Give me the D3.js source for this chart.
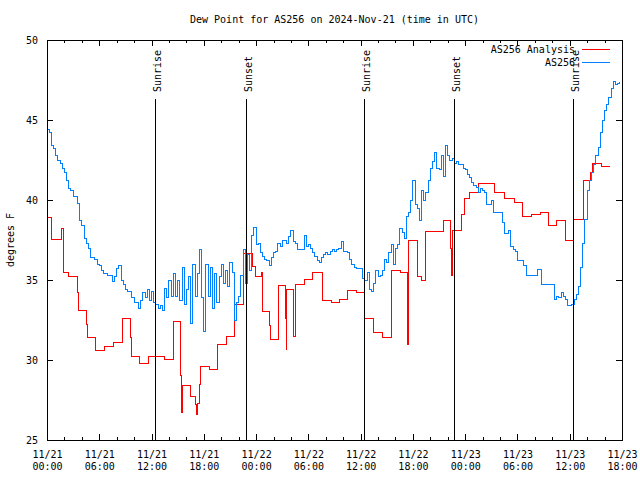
<!DOCTYPE html>
<html><head><meta charset="utf-8">
<script src="https://cdn.jsdelivr.net/npm/d3@7"></script>
<style>
body{margin:0;background:#fff}
svg text{font-family:"DejaVu Sans Mono",monospace;font-size:10px;fill:#000}
</style>
</head><body><svg id="c" width="640" height="480"></svg>
<script>
const title = "Dew Point for AS256 on 2024-Nov-21 (time in UTC)";
const yLabel = "degrees F";
const seriesNames = ["AS256 Analysis", "AS256"];
const seriesColors = ["#ff0000", "#0080ff"];
const startTime = "2024-11-21T00:00:00Z";
const endTime = "2024-11-23T18:00:00Z";
const yDomain = [25, 50];
const yTicks = [25, 30, 35, 40, 45, 50];
const sunLabels = ["Sunrise", "Sunset", "Sunrise", "Sunset", "Sunrise"];
const sunTimes = ["2024-11-21T12:27:00Z", "2024-11-21T22:49:00Z", "2024-11-22T12:25:00Z", "2024-11-22T22:45:00Z", "2024-11-23T12:25:00Z"];

// AS256 Analysis: hours since start, value (step)
const analysisHours = [0, 0.57, 1.61, 1.87, 2.44, 3.48, 3.59, 4.56, 4.63, 5.59, 6.58, 7.58, 8.61, 8.69, 9.53, 9.72, 10.56, 11.63, 13.54, 14.54, 15.35, 15.44, 15.53, 16.49, 17.10, 17.18, 17.33, 17.56, 17.64, 18.60, 19.59, 20.58, 21.50, 22.58, 23.57, 23.95, 24.64, 24.76, 25.52, 25.60, 26.55, 27.40, 27.45, 27.51, 28.35, 28.52, 29.53, 30.50, 31.57, 32.68, 33.52, 34.52, 35.47, 36.47, 37.45, 38.53, 39.56, 40.52, 41.40, 41.47, 41.55, 42.55, 42.93, 43.50, 45.49, 46.34, 46.41, 46.60, 47.55, 47.87, 48.55, 49.50, 51.39, 52.54, 53.64, 54.60, 55.59, 56.59, 57.59, 58.51, 59.54, 60.49, 61.56, 62.40, 62.60, 63.67, 64.62];
const analysisValues = [38.9, 37.56, 38.25, 35.5, 35.25, 34.2, 33.1, 32.25, 31.4, 30.6, 30.83, 31.1, 31.9, 32.6, 31.4, 30.2, 29.8, 30.2, 30.04, 32.4, 29.06, 26.7, 28.4, 27.7, 27.2, 26.6, 27.3, 28.5, 29.6, 29.4, 31.0, 31.5, 33.48, 36.63, 35.83, 35.25, 35.46, 33.02, 32.13, 31.31, 34.63, 32.6, 30.67, 34.38, 31.46, 34.69, 35.06, 35.5, 33.75, 33.58, 33.8, 34.35, 34.2, 32.6, 31.7, 31.4, 35.6, 35.5, 31.0, 34.3, 37.5, 35.2, 35.0, 38.06, 38.75, 37.0, 35.3, 38.1, 39.1, 40.1, 40.45, 41.04, 40.5, 40.1, 39.85, 38.96, 39.1, 39.2, 38.4, 38.7, 37.5, 38.8, 41.2, 41.7, 42.3, 42.1, 42.1];

// AS256 observations, one every 15 minutes from start
const obsStepMinutes = 15;
const obsValues = [
44.4, 44.2, 43.4, 43.2, 42.8, 42.5, 42.3, 42.0, 41.7, 41.2,
40.7, 40.6, 40.2, 40.2, 39.8, 38.75, 38.4, 37.6, 37.3, 37.0,
36.4, 36.4, 36.3, 36.0, 35.9, 35.6, 35.4, 35.4, 35.3, 35.3,
34.9, 35.2, 35.7, 35.9, 35.0, 34.7, 34.4, 34.3, 34.3, 33.9,
33.6, 33.6, 33.2, 33.7,
34.2, 33.9, 34.4, 33.7, 34.3, 33.6, 33.5, 33.2, 33.4, 33.1,
34.5, 33.9, 35.0, 34.0, 35.4, 34.0, 35.0, 33.7, 35.8, 33.5,
34.4, 35.2, 32.3, 36.0, 34.0, 35.4, 36.9, 33.9, 31.8, 36.0,
34.0, 35.8, 33.2, 35.4, 33.6, 35.2, 36.0, 34.8, 35.6, 34.6,
36.1, 35.5, 32.5, 33.6, 34.0,
35.3, 36.9, 34.8, 36.6, 35.6, 37.8, 38.3, 37.2, 37.3, 36.7,
36.5, 36.3, 36.2, 35.9, 36.4, 36.7, 36.8, 37.3, 37.1, 37.5,
37.5, 37.3, 37.7, 38.1, 37.4, 37.3, 36.9, 36.9, 36.9, 37.8,
37.1, 37.2, 37.0, 36.7, 36.5, 36.25, 36.1, 36.4, 36.6, 36.7,
36.6, 36.8, 36.9, 36.8,
36.9, 37.0, 37.4, 36.8, 36.8, 36.7, 36.3, 36.0, 35.8, 35.75,
35.7, 35.7, 35.1, 35.0, 35.5, 34.4, 34.3, 34.8, 35.6, 35.2,
35.3, 35.6, 36.3, 36.1, 36.7, 37.2, 36.0, 37.0, 37.2, 38.2,
38.0, 37.6, 39.0, 39.2, 40.0, 41.2, 39.7, 39.5, 38.7, 40.6,
40.0, 40.5, 41.2, 42.0,
42.4, 43.0, 42.0, 41.9, 42.8, 41.5, 43.4, 42.8, 42.5, 42.6,
42.3, 42.4, 42.2, 42.2, 42.0, 41.9, 41.6, 41.4, 41.1, 40.9,
40.8, 40.5, 40.7, 40.6, 40.5, 39.7, 39.7, 40.0, 39.2, 39.2,
39.2, 39.2, 38.6, 37.9, 37.9, 38.1, 37.1, 36.9, 36.8, 36.25,
36.25, 36.25, 35.9,
35.3, 35.3, 35.3, 35.3, 35.3, 35.67, 35.67, 34.7, 34.7, 34.7,
34.7, 34.7, 34.7, 33.8, 34.0, 33.9, 34.2, 34.0, 33.8, 33.4,
33.4, 33.5, 33.8, 34.1, 34.6, 35.8, 37.3, 38.8, 40.6, 41.2,
41.7, 42.2, 42.8, 43.3, 44.2, 45.0, 45.6, 46.0, 46.4, 47.0,
47.4, 47.2, 47.3, 47.4
];

const L = 47, R = 622, T = 40, B = 440;
const svg = d3.select("#c");
const t0 = new Date(startTime), t1 = new Date(endTime);
const HOUR = 3600e3;
const x = d3.scaleUtc().domain([t0, t1]).range([L, R]);
const y = d3.scaleLinear().domain(yDomain).range([B, T]);

const analysis = analysisHours.map((h, i) => ({t: new Date(+t0 + h * HOUR), v: analysisValues[i]}));
const obs = obsValues.map((v, i) => ({t: new Date(+t0 + i * obsStepMinutes * 60e3), v}));

function axisG(axis, tx, ty) {
  const g = svg.append("g").attr("transform", `translate(${tx},${ty})`).call(axis);
  g.select(".domain").remove();
  g.selectAll("line").attr("stroke", "#000").attr("shape-rendering", "crispEdges");
  return g;
}
const major = d3.utcHour.every(6), minor = d3.utcHour.every(2);
// minor ticks bottom/top
axisG(d3.axisBottom(x).ticks(minor).tickSizeInner(-3).tickSizeOuter(0).tickFormat(""), 0, B);
axisG(d3.axisTop(x).ticks(minor).tickSizeInner(-3).tickSizeOuter(0).tickFormat(""), 0, T);
// major ticks bottom with two-line labels
const gb = axisG(d3.axisBottom(x).ticks(major).tickSizeInner(-6).tickSizeOuter(0).tickFormat(""), 0, B);
const fDate = d3.utcFormat("%m/%d"), fTime = d3.utcFormat("%H:%M");
gb.selectAll(".tick").each(function(d) {
  const s = d3.select(this);
  s.select("text").remove();
  s.append("text").attr("y", 17.5).attr("text-anchor", "middle").text(fDate(d));
  s.append("text").attr("y", 29.5).attr("text-anchor", "middle").text(fTime(d));
});
axisG(d3.axisTop(x).ticks(major).tickSizeInner(-6).tickSizeOuter(0).tickFormat(""), 0, T);
// y axes
axisG(d3.axisLeft(y).tickValues(yTicks).tickSizeInner(-6).tickSizeOuter(0).tickPadding(9), L, 0)
  .selectAll("text").attr("dy", "0.32em");
axisG(d3.axisRight(y).tickValues(yTicks).tickSizeInner(-6).tickSizeOuter(0).tickFormat(""), R, 0);

// series
const line = d3.line().x(d => x(d.t)).y(d => y(d.v)).curve(d3.curveStepAfter);
const series = [analysis, obs];
series.forEach((data, i) => {
  svg.append("path").datum(data).attr("d", line)
    .attr("fill", "none").attr("stroke", seriesColors[i]).attr("stroke-width", 1)
    .attr("shape-rendering", "crispEdges");
});

// sun lines
sunTimes.forEach((s, i) => {
  const xs = Math.round(x(new Date(s))) + 0.5;
  svg.append("line").attr("x1", xs).attr("x2", xs).attr("y1", y(yDomain[0])).attr("y2", 99)
    .attr("stroke", "#000").attr("stroke-width", 1).attr("shape-rendering", "crispEdges");
  svg.append("text").attr("transform", `translate(${xs + 5},92) rotate(-90)`)
    .attr("text-anchor", "start").text(sunLabels[i]);
});

// frame
svg.append("rect").attr("x", L + 0.5).attr("y", T + 0.5).attr("width", R - L).attr("height", B - T)
  .attr("fill", "none").attr("stroke", "#000").attr("shape-rendering", "crispEdges");

// title & labels
svg.append("text").attr("x", (L + R) / 2).attr("y", 23).attr("text-anchor", "middle").text(title);
svg.append("text").attr("transform", `translate(14,${(T + B) / 2}) rotate(-90)`)
  .attr("text-anchor", "middle").text(yLabel);

// legend
seriesNames.forEach((n, i) => {
  const ly = 49.5 + i * 13;
  svg.append("text").attr("x", 575).attr("y", ly + 3.5).attr("text-anchor", "end").text(n);
  svg.append("line").attr("x1", 582).attr("x2", 610).attr("y1", ly).attr("y2", ly)
    .attr("stroke", seriesColors[i]).attr("shape-rendering", "crispEdges");
});
</script>
</body></html>
